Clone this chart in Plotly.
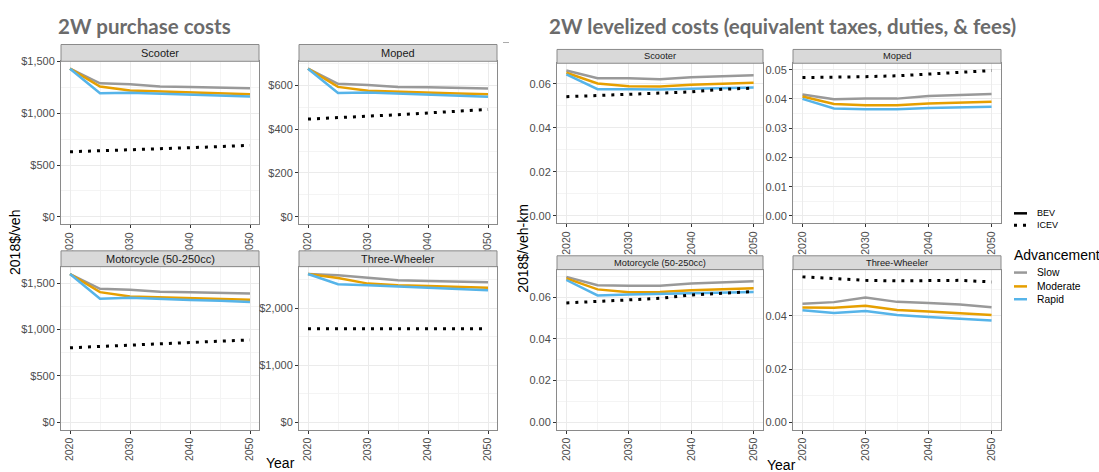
import plotly.graph_objects as go

# ---------------------------------------------------------------- data
years = [2020, 2025, 2030, 2035, 2040, 2045, 2050]
vehicles = ["Scooter", "Moped", "Motorcycle (50-250cc)", "Three-Wheeler"]
advancement = ["Slow", "Moderate", "Rapid"]
powertrains = ["BEV", "ICEV"]

# Purchase costs (2018$/veh)
purchase_scooter_slow = [1430, 1289, 1279, 1257, 1254, 1250, 1241]
purchase_scooter_moderate = [1430, 1257, 1219, 1209, 1200, 1193, 1184]
purchase_scooter_rapid = [1430, 1193, 1197, 1187, 1177, 1171, 1161]
purchase_scooter_icev = [628, 636, 646, 657, 667, 678, 690]

purchase_moped_slow = [676, 607, 602, 593, 591, 590, 586]
purchase_moped_moderate = [676, 593, 575, 570, 566, 563, 559]
purchase_moped_rapid = [676, 565, 567, 562, 557, 554, 548]
purchase_moped_icev = [446, 452, 459, 466, 474, 482, 490]

purchase_motorcycle_slow = [1597, 1438, 1427, 1406, 1402, 1398, 1388]
purchase_motorcycle_moderate = [1597, 1402, 1356, 1345, 1338, 1331, 1320]
purchase_motorcycle_rapid = [1597, 1331, 1342, 1327, 1317, 1310, 1295]
purchase_motorcycle_icev = [802, 815, 828, 842, 856, 871, 887]

purchase_3w_slow = [2603, 2580, 2540, 2493, 2482, 2476, 2459]
purchase_3w_moderate = [2603, 2534, 2435, 2406, 2394, 2382, 2360]
purchase_3w_rapid = [2603, 2424, 2406, 2383, 2365, 2347, 2320]
purchase_3w_icev = [1642, 1642, 1642, 1642, 1642, 1642, 1642]

# Levelized taxes, duties & fees (2018$/veh-km)
lev_scooter_slow = [0.0661, 0.0626, 0.0626, 0.0621, 0.0631, 0.0636, 0.0640]
lev_scooter_moderate = [0.0651, 0.0602, 0.0590, 0.0588, 0.0596, 0.0600, 0.0605]
lev_scooter_rapid = [0.0644, 0.0576, 0.0576, 0.0575, 0.0578, 0.0582, 0.0584]
lev_scooter_icev = [0.0542, 0.0547, 0.0551, 0.0556, 0.0564, 0.0576, 0.0581]

lev_moped_slow = [0.0415, 0.0399, 0.0401, 0.0401, 0.0410, 0.0413, 0.0417]
lev_moped_moderate = [0.0408, 0.0383, 0.0378, 0.0378, 0.0384, 0.0387, 0.0390]
lev_moped_rapid = [0.0400, 0.0367, 0.0365, 0.0365, 0.0369, 0.0371, 0.0373]
lev_moped_icev = [0.0473, 0.0474, 0.0476, 0.0479, 0.0485, 0.0493, 0.0497]

lev_motorcycle_slow = [0.0698, 0.0658, 0.0656, 0.0656, 0.0666, 0.0671, 0.0677]
lev_motorcycle_moderate = [0.0691, 0.0638, 0.0624, 0.0625, 0.0634, 0.0639, 0.0644]
lev_motorcycle_rapid = [0.0683, 0.0609, 0.0614, 0.0617, 0.0620, 0.0623, 0.0625]
lev_motorcycle_icev = [0.0573, 0.0581, 0.0587, 0.0595, 0.0611, 0.0620, 0.0628]

lev_3w_slow = [0.0446, 0.0452, 0.0469, 0.0453, 0.0449, 0.0443, 0.0433]
lev_3w_moderate = [0.0432, 0.0431, 0.0438, 0.0422, 0.0417, 0.0411, 0.0404]
lev_3w_rapid = [0.0421, 0.0411, 0.0419, 0.0404, 0.0396, 0.0390, 0.0383]
lev_3w_icev = [0.0547, 0.0541, 0.0534, 0.0532, 0.0534, 0.0534, 0.0528]

# ---------------------------------------------------------------- styles
W, H = 1099, 472
ADV_COLORS = {"Slow": "#999999", "Moderate": "#E69F00", "Rapid": "#56B4E9"}
ICEV_DASH = "3px,6px"
GRID = "#EBEBEB"
MINOR_GRID = "#F4F4F4"
BORDER = "#8A8A8A"
TICK_TEXT = "#4D4D4D"
FONT = "Liberation Sans"


def px(x):
    return x / W


def py(y):
    return 1 - y / H


purchase_series = [
    (purchase_scooter_slow, purchase_scooter_moderate, purchase_scooter_rapid, purchase_scooter_icev),
    (purchase_moped_slow, purchase_moped_moderate, purchase_moped_rapid, purchase_moped_icev),
    (purchase_motorcycle_slow, purchase_motorcycle_moderate, purchase_motorcycle_rapid, purchase_motorcycle_icev),
    (purchase_3w_slow, purchase_3w_moderate, purchase_3w_rapid, purchase_3w_icev),
]
levelized_series = [
    (lev_scooter_slow, lev_scooter_moderate, lev_scooter_rapid, lev_scooter_icev),
    (lev_moped_slow, lev_moped_moderate, lev_moped_rapid, lev_moped_icev),
    (lev_motorcycle_slow, lev_motorcycle_moderate, lev_motorcycle_rapid, lev_motorcycle_icev),
    (lev_3w_slow, lev_3w_moderate, lev_3w_rapid, lev_3w_icev),
]

# panel boxes in pixels: (left, right, strip_top, plot_top, plot_bottom)
purchase_boxes = [
    (61, 259, 39, 56, 221),
    (299, 497, 39, 56, 221),
    (61, 259, 248, 264, 429),
    (299, 497, 248, 264, 429),
]
levelized_boxes = [
    (557, 763, 44, 58, 220),
    (793, 1001, 44, 58, 220),
    (557, 763, 253, 267, 429),
    (793, 1001, 253, 267, 429),
]
purchase_dticks = [500, 200, 500, 1000]
levelized_dticks = [0.02, 0.01, 0.02, 0.02]

fig = go.Figure()
layout = {}
shapes = []
annotations = []

panels = []
for i in range(4):
    panels.append(("purchase", vehicles[i], purchase_series[i], purchase_boxes[i], purchase_dticks[i]))
for i in range(4):
    panels.append(("levelized", vehicles[i], levelized_series[i], levelized_boxes[i], levelized_dticks[i]))

for k, (kind, name, series, box, dtick) in enumerate(panels, start=1):
    left, right, strip_top, top, bottom = box
    xa = "x" if k == 1 else f"x{k}"
    ya = "y" if k == 1 else f"y{k}"
    small = kind == "levelized"

    for adv, vals in zip(advancement, series[:3]):
        fig.add_trace(go.Scatter(
            x=years, y=vals, mode="lines", xaxis=xa, yaxis=ya,
            line=dict(color=ADV_COLORS[adv], width=2.5),
            showlegend=False, name=f"{name} {adv}",
        ))
    fig.add_trace(go.Scatter(
        x=years, y=series[3], mode="lines", xaxis=xa, yaxis=ya,
        line=dict(color="black", width=3, dash=ICEV_DASH),
        showlegend=False, name=f"{name} ICEV",
    ))

    ymax = max(max(s) for s in series)
    yrange = [-0.05 * ymax, 1.05 * ymax]
    if kind == "purchase":
        yfmt = dict(tickprefix="$", tickformat=",d")
    else:
        yfmt = dict(tickformat=".2f")

    layout["xaxis" if k == 1 else f"xaxis{k}"] = dict(
        domain=[px(left), px(right)], anchor=ya, range=[2018.5, 2051.5],
        tick0=2020, dtick=10, tickangle=-90,
        showgrid=True, gridcolor=GRID, gridwidth=1,
        minor=dict(dtick=5, tick0=2020, showgrid=True, gridcolor=MINOR_GRID, gridwidth=1),
        showline=True, mirror=True, linecolor=BORDER, linewidth=1,
        ticks="outside", ticklen=3, tickcolor="#333333", tickwidth=1,
        tickfont=dict(family=FONT, size=10.5, color=TICK_TEXT),
        zeroline=False, fixedrange=True,
    )
    layout["yaxis" if k == 1 else f"yaxis{k}"] = dict(
        domain=[py(bottom), py(top)], anchor=xa, range=yrange,
        tick0=0, dtick=dtick,
        showgrid=True, gridcolor=GRID, gridwidth=1,
        minor=dict(dtick=dtick / 2, tick0=0, showgrid=True, gridcolor=MINOR_GRID, gridwidth=1),
        showline=True, mirror=True, linecolor=BORDER, linewidth=1,
        ticks="outside", ticklen=3, tickcolor="#333333", tickwidth=1,
        tickfont=dict(family=FONT, size=11, color=TICK_TEXT),
        zeroline=False, fixedrange=True, **yfmt,
    )

    # facet strip
    shapes.append(dict(
        type="rect", xref="paper", yref="paper",
        x0=px(left), x1=px(right), y0=py(top), y1=py(strip_top),
        fillcolor="#D9D9D9", line=dict(color=BORDER, width=1), layer="above",
    ))
    annotations.append(dict(
        text=name, xref="paper", yref="paper",
        x=px((left + right) / 2), y=py((top + strip_top) / 2),
        xanchor="center", yanchor="middle", showarrow=False,
        font=dict(family=FONT, size=9.3 if small else 11, color="#1A1A1A", weight="normal"),
    ))

# ---------------------------------------------------------------- titles
TITLE_FONT = dict(family="Lato", size=20.5, color="#6B6B6B", weight="bold")
annotations += [
    dict(text="2W purchase costs", xref="paper", yref="paper",
         x=px(56), y=py(6), xanchor="left", yanchor="top", showarrow=False, font=TITLE_FONT),
    dict(text="2W levelized costs (equivalent taxes, duties, &amp; fees)", xref="paper", yref="paper",
         x=px(547), y=py(6), xanchor="left", yanchor="top", showarrow=False, font=TITLE_FONT),
    dict(text="2018$/veh", xref="paper", yref="paper", x=px(15), y=py(240),
         xanchor="center", yanchor="middle", textangle=-90, showarrow=False,
         font=dict(family=FONT, size=14, color="black")),
    dict(text="2018$/veh-km", xref="paper", yref="paper", x=px(523), y=py(246),
         xanchor="center", yanchor="middle", textangle=-90, showarrow=False,
         font=dict(family=FONT, size=14, color="black")),
    dict(text="Year", xref="paper", yref="paper", x=px(280), y=py(463),
         xanchor="center", yanchor="middle", showarrow=False,
         font=dict(family=FONT, size=14, color="black")),
    dict(text="Year", xref="paper", yref="paper", x=px(781), y=py(465),
         xanchor="center", yanchor="middle", showarrow=False,
         font=dict(family=FONT, size=14, color="black")),
]

# small separator tick between the two figures
shapes.append(dict(type="line", xref="paper", yref="paper",
                   x0=px(503), x1=px(509), y0=py(37), y1=py(37),
                   line=dict(color="#AAAAAA", width=1)))

# ---------------------------------------------------------------- legend
pt_rows = [210, 222]
for label, yy in zip(powertrains, pt_rows):
    shapes.append(dict(type="line", xref="paper", yref="paper",
                       x0=px(1014), x1=px(1027), y0=py(yy), y1=py(yy),
                       line=dict(color="black", width=2.5 if label == "BEV" else 3,
                                 dash="solid" if label == "BEV" else ICEV_DASH)))
    annotations.append(dict(text=label, xref="paper", yref="paper", x=px(1035), y=py(yy),
                            xanchor="left", yanchor="middle", showarrow=False,
                            font=dict(family=FONT, size=9, color="black")))

annotations.append(dict(text="Advancement", xref="paper", yref="paper", x=px(1012), y=py(252),
                        xanchor="left", yanchor="middle", showarrow=False,
                        font=dict(family=FONT, size=14, color="black")))
adv_rows = [270, 284, 297]
for label, yy in zip(advancement, adv_rows):
    shapes.append(dict(type="line", xref="paper", yref="paper",
                       x0=px(1014), x1=px(1027), y0=py(yy), y1=py(yy),
                       line=dict(color=ADV_COLORS[label], width=2.5)))
    annotations.append(dict(text=label, xref="paper", yref="paper", x=px(1035), y=py(yy),
                            xanchor="left", yanchor="middle", showarrow=False,
                            font=dict(family=FONT, size=10.3, color="black")))

fig.update_layout(
    width=W, height=H, margin=dict(l=0, r=0, t=0, b=0),
    paper_bgcolor="white", plot_bgcolor="white",
    showlegend=False, shapes=shapes, annotations=annotations,
    hovermode=False, **layout,
)

fig.write_html("out.html", config={"displayModeBar": False})
